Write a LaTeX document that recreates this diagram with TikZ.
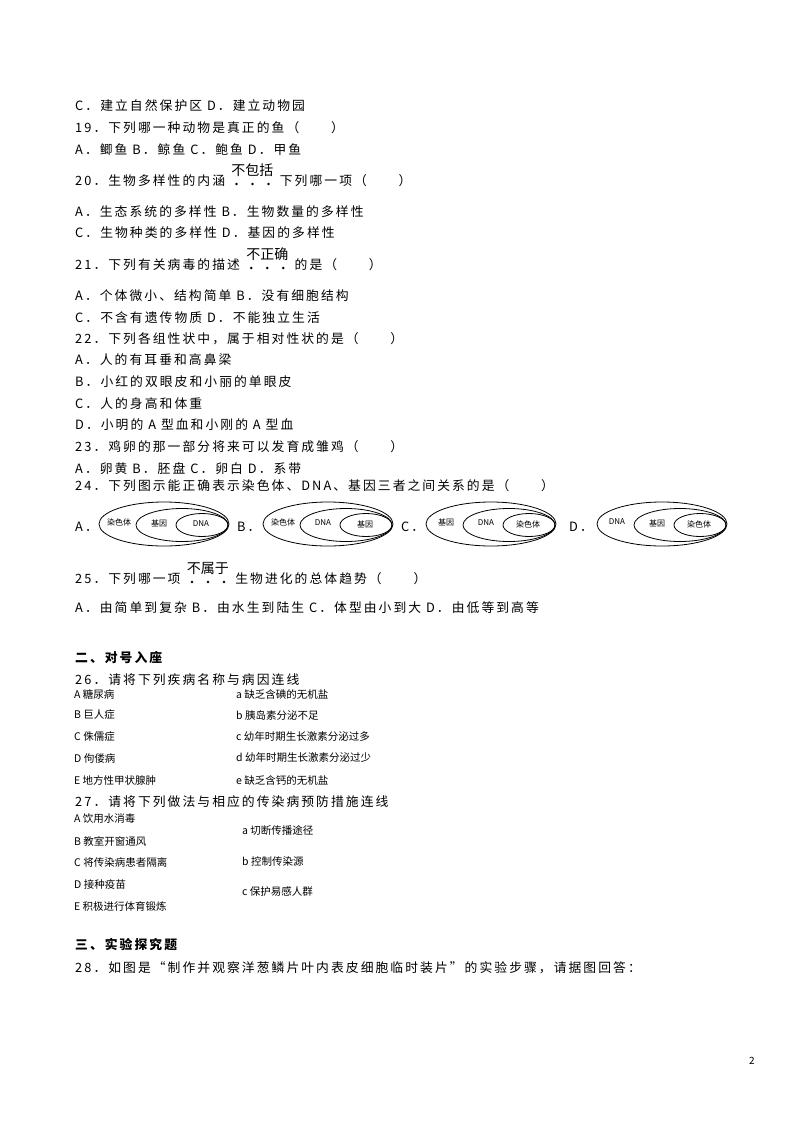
\documentclass[tikz,border=0pt]{standalone}
\usepackage{fontspec}
\setmainfont{Noto Sans CJK SC}[LetterSpace=16]
\newfontfamily\smallcjk{Noto Sans CJK SC}
\begin{document}
\begin{tikzpicture}[x=1pt,y=-1pt,
  t/.style={anchor=west,inner sep=0pt,font=\fontsize{12.8}{14}\selectfont},
  s/.style={anchor=west,inner sep=0pt,font=\smallcjk\fontsize{10.5}{12}\selectfont},
  gap/.style={anchor=west,inner sep=0pt,minimum width=54pt,minimum height=10pt},
  em/.style={anchor=south,inner sep=0pt,font=\smallcjk\fontsize{14}{16}\selectfont},
  dot/.style={fill,circle,inner sep=0pt,minimum size=2.8pt},
  el/.style={draw,line width=0.8pt},
  lab/.style={inner sep=0pt,font=\smallcjk\fontsize{8}{9}\selectfont}]
\useasboundingbox (0,0) rectangle (800,1132);
\fill[white] (0,0) rectangle (800,1132);
\node[t] (l1) at (75,106) {C．建立自然保护区 D．建立动物园};
\node[t] (l2) at (75,128) {19．下列哪一种动物是真正的鱼（　　）};
\node[t] (l3) at (75,150) {A．鲫鱼 B．鲸鱼 C．鲍鱼 D．甲鱼};
% 20
\node[t] (l4) at (75,181) {20．生物多样性的内涵};
\node[gap] (g4) at (l4.east) {};
\node[t] (p4) at (g4.east) {下列哪一项（　　）};
\node[em] (e4) at ([yshift=-1pt]g4.north) {不包括};
\foreach \i in {-1,0,1} \node[dot] at ([xshift=\i*16pt,yshift=-3pt]g4.center) {};
\node[t] (l5) at (75,212) {A．生态系统的多样性 B．生物数量的多样性};
\node[t] (l6) at (75,233) {C．生物种类的多样性 D．基因的多样性};
% 21
\node[t] (l7) at (75,265) {21．下列有关病毒的描述};
\node[gap] (g7) at (l7.east) {};
\node[t] (p7) at (g7.east) {的是（　　）};
\node[em] (e7) at ([yshift=-1pt]g7.north) {不正确};
\foreach \i in {-1,0,1} \node[dot] at ([xshift=\i*16pt,yshift=-3pt]g7.center) {};
\node[t] (l8) at (75,296) {A．个体微小、结构简单 B．没有细胞结构};
\node[t] (l9) at (75,318) {C．不含有遗传物质 D．不能独立生活};
\node[t] (l10) at (75,339) {22．下列各组性状中，属于相对性状的是（　　）};
\node[t] (l11) at (75,360) {A．人的有耳垂和高鼻梁};
\node[t] (l12) at (75,382) {B．小红的双眼皮和小丽的单眼皮};
\node[t] (l13) at (75,404) {C．人的身高和体重};
\node[t] (l14) at (75,425) {D．小明的 A 型血和小刚的 A 型血};
\node[t] (l15) at (75,447) {23．鸡卵的那一部分将来可以发育成雏鸡（　　）};
\node[t] (l16) at (75,469) {A．卵黄 B．胚盘 C．卵白 D．系带};
\node[t] (l17) at (75,486) {24．下列图示能正确表示染色体、DNA、基因三者之间关系的是（　　）};
\foreach \ox/\optl/\ta/\tb/\tc/\lx in {99/A/染色体/基因/DNA/75, 263/B/染色体/DNA/基因/237, 426/C/基因/DNA/染色体/401, 597/D/DNA/基因/染色体/569}{
  \node[t] at (\lx,527) {\optl．};
  \draw[el] (\ox+65,524) ellipse (65 and 22);
  \draw[el] (\ox+83,525) ellipse (46 and 16.5);
  \draw[el] (\ox+103,525) ellipse (26 and 11.5);
  \node[lab] at (\ox+20,522) {\ta};
  \node[lab] at (\ox+60,523) {\tb};
  \node[lab] at (\ox+102,524) {\tc};
}
% 25
\node[t] (l18) at (75,579) {25．下列哪一项};
\node[gap] (g18) at (l18.east) {};
\node[t] (p18) at (g18.east) {生物进化的总体趋势（　　）};
\node[em] (e18) at ([yshift=-1pt]g18.north) {不属于};
\foreach \i in {-1,0,1} \node[dot] at ([xshift=\i*16pt,yshift=-3pt]g18.center) {};
\node[t] (l19) at (75,608) {A．由简单到复杂 B．由水生到陆生 C．体型由小到大 D．由低等到高等};
\node[t,font=\bfseries\fontsize{12.8}{14}\selectfont] (h2) at (75,658) {二、对号入座};
\node[t] (l20) at (75,680) {26．请将下列疾病名称与病因连线};
\node[s] (a1) at (74,694) {A 糖尿病};
\node[s] (a2) at (74,715) {B 巨人症};
\node[s] (a3) at (74,737) {C 侏儒症};
\node[s] (a4) at (74,758) {D 佝偻病};
\node[s] (a5) at (74,780) {E 地方性甲状腺肿};
\node[s] (b1) at (236,694) {a 缺乏含碘的无机盐};
\node[s] (b2) at (236,715) {b 胰岛素分泌不足};
\node[s] (b3) at (236,737) {c 幼年时期生长激素分泌过多};
\node[s] (b4) at (236,758) {d 幼年时期生长激素分泌过少};
\node[s] (b5) at (236,780) {e 缺乏含钙的无机盐};
\node[t] (l21) at (75,802) {27．请将下列做法与相应的传染病预防措施连线};
\node[s] (c1) at (74,819) {A 饮用水消毒};
\node[s] (c2) at (74,841) {B 教室开窗通风};
\node[s] (c3) at (74,862) {C 将传染病患者隔离};
\node[s] (c4) at (74,884) {D 接种疫苗};
\node[s] (c5) at (74,906) {E 积极进行体育锻炼};
\node[s] (d1) at (242,830) {a 切断传播途径};
\node[s] (d2) at (242,861) {b 控制传染源};
\node[s] (d3) at (242,892) {c 保护易感人群};
\node[t,font=\bfseries\fontsize{12.8}{14}\selectfont] (h3) at (75,945) {三、实验探究题};
\node[t] (l22) at (75,968) {28．如图是“制作并观察洋葱鳞片叶内表皮细胞临时装片”的实验步骤，请据图回答：};
\node[inner sep=0pt,font=\smallcjk\fontsize{10}{12}\selectfont] (pg) at (752,1061) {2};
\end{tikzpicture}
\end{document}
